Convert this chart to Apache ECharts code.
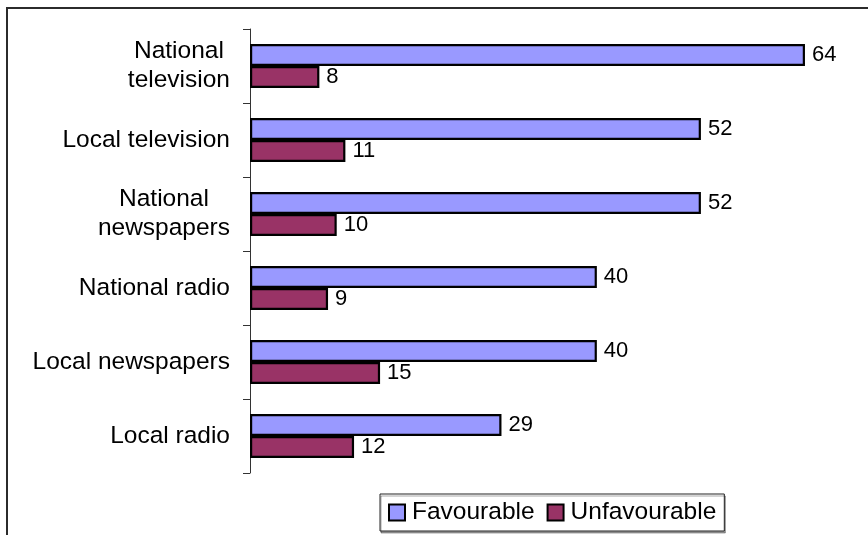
<!DOCTYPE html>
<html>
<head>
<meta charset="utf-8">
<script src="https://cdn.jsdelivr.net/npm/echarts@6/dist/echarts.min.js"></script>
<style>
  html, body { margin: 0; padding: 0; background: #fff; }
  #chart { width: 868px; height: 535px; }
</style>
</head>
<body>
<div id="chart"></div>
<script>
// Media outlets, listed top to bottom
const categories = [
  'National\ntelevision',
  'Local television',
  'National\nnewspapers',
  'National radio',
  'Local newspapers',
  'Local radio'
];
const favourable = [64, 52, 52, 40, 40, 29];
const unfavourable = [8, 11, 10, 9, 15, 12];
const seriesNames = ['Favourable', 'Unfavourable'];

const FONT = 'Arial, "Liberation Sans", sans-serif';
const LABEL_SIZE = 24.5;

const chart = echarts.init(document.getElementById('chart'));

function barSeries(name, data, color) {
  return {
    name: name,
    type: 'bar',
    data: data,
    barWidth: 22,
    barGap: '0%',
    itemStyle: { color: color, borderColor: '#000', borderWidth: 2.2 },
    label: {
      show: true,
      position: 'right',
      distance: 7,
      color: '#000',
      fontFamily: FONT,
      fontSize: 22
    }
  };
}

chart.setOption({
  animation: false,
  backgroundColor: '#fff',
  grid: { left: 250, right: 11, top: 29, bottom: 62, containLabel: false },
  xAxis: {
    type: 'value',
    min: 0,
    max: 70,
    show: false
  },
  yAxis: {
    type: 'category',
    inverse: true,
    data: categories,
    axisLine: { show: true, lineStyle: { color: '#333', width: 1 } },
    axisTick: { show: true, length: 7, lineStyle: { color: '#333' } },
    axisLabel: {
      margin: 20,
      align: 'right',
      color: '#000',
      fontFamily: FONT,
      fontSize: LABEL_SIZE,
      lineHeight: 29,
      formatter: function (v) {
        // each line centred within the wrapped label block
        return v.split('\n').map(function (s) { return '{c|' + s + '}'; }).join('\n');
      },
      rich: {
        c: { align: 'center', fontFamily: FONT, fontSize: LABEL_SIZE, lineHeight: 29, color: '#000' }
      }
    }
  },
  legend: {
    data: seriesNames,
    left: 380,
    top: 494,
    orient: 'horizontal',
    padding: [6, 8, 6, 8],
    itemWidth: 16,
    itemHeight: 16,
    itemGap: 12,
    borderColor: '#222',
    borderWidth: 1,
    shadowColor: 'rgba(0,0,0,0.35)',
    shadowOffsetX: 1,
    shadowOffsetY: 2,
    shadowBlur: 0,
    backgroundColor: '#fff',
    icon: 'rect',
    itemStyle: { borderColor: '#000', borderWidth: 2 },
    textStyle: { color: '#000', fontFamily: FONT, fontSize: LABEL_SIZE, padding: [0, 0, 0, 2] }
  },
  graphic: [
    {
      type: 'polyline',
      silent: true,
      shape: { points: [[7, 535], [7, 8], [868, 8]] },
      style: { stroke: '#2b2b2b', lineWidth: 2, fill: null }
    }
  ],
  series: [
    barSeries(seriesNames[0], favourable, '#9999FF'),
    barSeries(seriesNames[1], unfavourable, '#993366')
  ]
});
</script>
</body>
</html>
